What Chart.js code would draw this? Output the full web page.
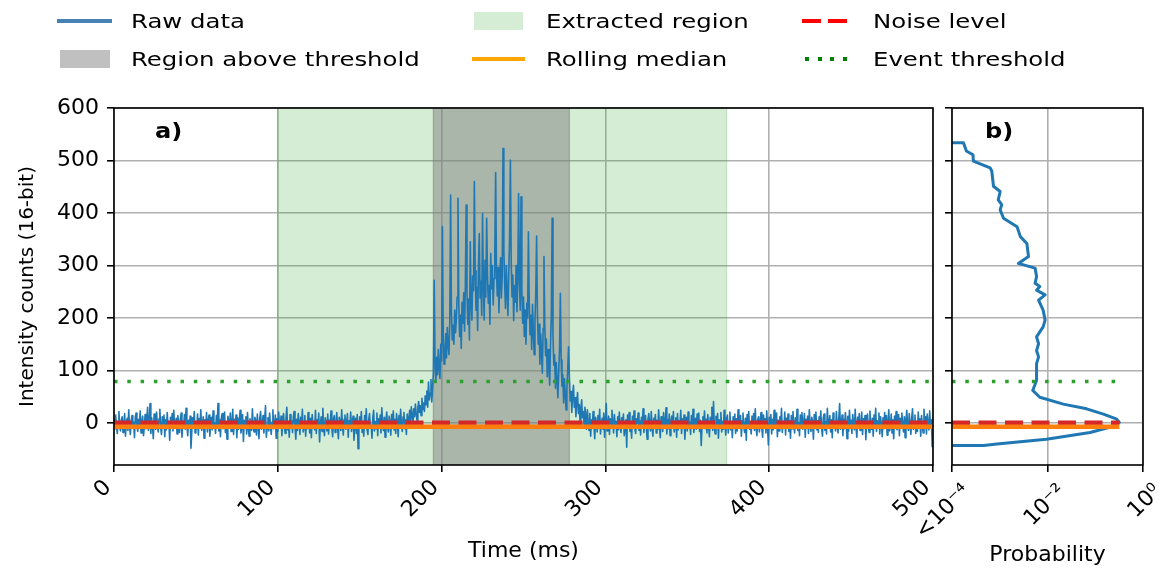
<!DOCTYPE html>
<html>
<head>
<meta charset="utf-8">
<title>Event extraction</title>
<script src="https://cdn.jsdelivr.net/npm/chart.js@4.4.1/dist/chart.umd.min.js"></script>
<style>
  body { margin: 0; background: #fff; }
  #page { position: relative; width: 1162px; height: 572px; overflow: hidden; font-family: "DejaVu Sans", sans-serif; }
  canvas { position: absolute; top: 0; }
  .sw { position: absolute; }
  .legend-text { position: absolute; font-size: 20px; line-height: 24px; white-space: nowrap; color: #000; transform: scaleX(1.22); transform-origin: 0 50%; }
  .panel-tag { position: absolute; font-size: 21px; font-weight: bold; line-height: 24px; transform: scaleX(1.15); transform-origin: 0 50%; }
</style>
</head>
<body>
<div id="page">
  <canvas id="time-chart" width="945" height="572" style="left:0"></canvas>
  <canvas id="prob-chart" width="262" height="572" style="left:900px"></canvas>

  <!-- legend, 3 columns x 2 rows -->
  <div class="sw" style="left:57px;top:19px;width:55px;height:4px;background:#4682b4"></div>
  <div class="legend-text" style="left:131px;top:9px">Raw data</div>
  <div class="sw" style="left:60px;top:50px;width:50px;height:18px;background:#c0c0c0"></div>
  <div class="legend-text" style="left:131px;top:47px">Region above threshold</div>

  <div class="sw" style="left:474px;top:12px;width:49px;height:18px;background:#d5ecd5"></div>
  <div class="legend-text" style="left:546px;top:9px">Extracted region</div>
  <div class="sw" style="left:472px;top:57px;width:53px;height:4px;background:#ffa500"></div>
  <div class="legend-text" style="left:546px;top:47px">Rolling median</div>

  <div class="sw" style="left:802px;top:19px;width:45px;height:4px;background:linear-gradient(to right,#f00 0 19px,transparent 19px 26px,#f00 26px 45px)"></div>
  <div class="legend-text" style="left:873px;top:9px">Noise level</div>
  <div class="sw" style="left:805px;top:57px;width:42px;height:4px;background:repeating-linear-gradient(to right,#008000 0 4px,transparent 4px 12.7px)"></div>
  <div class="legend-text" style="left:873px;top:47px">Event threshold</div>

  <div class="panel-tag" style="left:155px;top:119px">a)</div>
  <div class="panel-tag" style="left:985px;top:119px">b)</div>
</div>

<script>
// sampling of the raw trace
const sampleStepMs = 0.5;

// raw intensity counts, one value every 0.5 ms
const baselineBefore = [ // 0 - 179.5 ms
  8,-12,15,-5,-20,3,22,-9,-15,6,12,-18,-2,18,-25,0,9,-14,25,-7,
  -22,4,14,-10,2,-28,11,19,-6,-16,7,-3,23,-19,1,13,-24,-8,16,-11,
  5,30,-14,-1,37,-20,10,-6,-30,17,3,-12,21,-4,-17,8,26,-9,-22,12,
  -2,15,-26,6,-13,20,-7,2,-33,11,-5,18,-15,24,-10,-1,9,-21,14,-4,
  -18,7,19,-27,3,-8,16,-12,28,-3,-24,5,-9,13,-48,-16,10,-6,22,-19,
  1,-11,17,-23,8,-4,25,-14,-2,12,-29,6,-7,20,-17,3,15,-25,-5,11,
  -13,23,-8,0,-20,14,-3,37,-15,6,-26,9,18,-11,-4,21,-18,2,-31,13,
  4,-9,19,-16,-1,26,-22,7,-6,15,-28,10,-12,3,24,-19,-7,16,-35,5,
  -3,12,-21,20,-10,-25,8,1,-14,27,-8,-17,11,4,-23,17,-5,-30,9,22,
  -12,-2,14,-19,6,33,-27,-8,10,-15,19,-4,-22,2,25,-11,-6,15,-29,8,
  -16,21,-3,-10,13,-24,5,18,-7,-20,9,30,-13,-1,-27,16,-9,4,-18,12,
  22,-6,-31,7,-14,18,1,-22,11,-4,26,-17,-8,14,-25,3,-11,20,-2,-19,
  9,-28,16,-5,2,-13,24,-20,6,-9,19,-36,-3,12,-16,28,-7,-24,10,0,
  -15,17,-21,5,-2,23,-11,-26,8,14,-18,-4,20,-8,-30,11,3,-14,25,-6,
  -23,7,15,-12,-1,18,-27,4,-9,21,-16,2,13,-33,-5,9,-20,16,-49,-10,
  12,-7,22,-18,0,-25,14,-3,27,-13,-22,6,18,-9,-4,-29,10,24,-15,3,
  -11,19,-24,8,-6,15,-19,29,-2,-14,11,-27,5,21,-8,-17,13,1,-23,16,
  -5,23,-13,7,-20,18,2,-26,14,-9,26,-4,-16,12,20,-11,6,-22,17,-3
];
const onsetRise = [ // 180 - 194.5 ms
  8,24,2,31,15,-4,27,12,36,18,5,29,41,20,33,14,47,26,38,22,
  52,35,61,30,78,44,57,83,40,66
];
const eventBurst = [ // 195 - 289.5 ms
  95,272,110,78,125,92,140,105,85,150,
  118,374,160,112,135,170,124,182,148,130,
  195,434,210,158,186,150,215,172,198,240,
  428,225,165,205,142,230,190,248,175,262,
  415,250,188,236,158,345,230,196,280,252,
  460,290,215,258,176,300,361,238,270,205,
  399,265,196,310,240,390,285,228,262,188,
  323,256,300,225,275,330,477,290,242,296,
  210,268,315,238,280,523,330,265,218,300,
  248,205,285,350,501,305,240,282,195,262,
  230,300,212,268,437,275,215,431,250,190,
  240,165,215,150,228,200,364,230,168,205,
  140,226,176,130,195,248,356,210,150,188,
  112,170,135,95,180,317,185,128,160,88,
  140,104,72,150,205,390,168,110,130,66,
  115,82,48,98,140,247,120,70,92,38,
  84,55,25,68,100,145,88,42,60,20,
  55,72,30,48,12,40,58,18,35,5,
  28,44,10,22,-6,30,14,-12,25,3
];
const baselineAfter = [ // 290 - 500 ms
  -14,18,-25,6,-9,22,-3,-30,11,1,-17,14,-6,26,-21,-2,9,-12,19,-27,
  5,37,-15,-4,13,-22,8,-10,24,-1,-19,16,-8,3,-26,12,-13,21,-5,-18,
  10,-3,17,-24,-11,6,-46,15,-7,20,-16,2,-29,13,-4,23,-12,-20,8,-1,
  19,-14,4,-23,11,-6,27,-18,0,14,-10,-31,7,18,-3,-15,22,-8,-25,9,
  -2,16,-19,5,-12,25,-7,-28,12,3,-16,20,-9,-3,29,-21,6,-11,17,-24,
  1,13,-8,22,-17,-5,10,-27,18,-13,4,-2,24,-20,8,-9,15,-31,-4,11,
  -15,21,-6,2,-22,14,-10,26,-18,-1,9,-12,17,-7,19,-16,5,-43,-4,12,
  -3,23,-11,7,-19,16,-5,-26,11,2,30,-14,41,-8,-21,13,-2,18,-29,6,
  -9,20,-17,3,-12,24,-6,-23,10,15,-19,-4,21,-13,1,-28,12,-7,17,-20,
  8,-15,25,-2,-10,14,-25,4,19,-8,-18,9,-33,16,-5,22,-12,0,-21,13,
  -6,18,-14,27,-9,-24,6,12,-17,3,20,-11,-27,15,-3,8,-19,23,-8,-42,
  11,-4,16,-21,7,-13,24,-9,-1,19,-26,5,-15,12,-7,28,-18,2,-10,21,
  -23,9,-5,17,-16,4,-29,14,-11,22,-2,-19,10,-8,26,-14,1,-24,15,-6,
  20,-12,-3,18,-27,7,-9,13,-20,25,-5,-16,11,1,-31,16,-8,21,-13,4,
  -18,12,-6,23,-10,-25,9,17,-14,3,-21,28,-7,-2,14,-17,6,-28,19,-9,
  2,-15,22,-4,-19,10,37,-12,-6,15,-24,7,-11,20,-1,-30,13,-16,24,-8,
  5,-20,16,-3,-13,26,-9,-27,11,0,18,-14,-5,21,-22,8,-10,14,-32,3,
  17,-7,-18,23,-2,-12,9,-25,15,-5,28,-16,4,-9,19,-21,12,-3,-26,10,
  -11,20,-6,14,-23,2,25,-15,-8,17,-19,6,-30,13,-1,22,-13,-5,16,-24,
  9,-10,19,-3,-17,12,-28,5,24,-8,-14,18,-2,-22,11,27,-12,-6,15,-20,
  3,-16,21,-9,8,-25,14,-4,-19,26,-7,12,-21,17,-2,-13,23,-10,6,-45,
  10
];
const rawCounts = [...baselineBefore, ...onsetRise, ...eventBurst, ...baselineAfter];

// levels and regions (ms / counts)
const noiseLevel = 0.5;
const rollingMedian = -7;
const eventThreshold = 79;
const extractedRegion = [100, 374];
const aboveThresholdRegion = [195, 278];

// panel b: probability of each intensity level
const histCounts = [534,534,518,511,499,486,480,451,441,425,416,406,390,374,355,342,317,304,295,279,
  266,260,253,244,234,215,196,183,164,151,138,126,113,81,62,49,36,27,17,8,1,-8,-18,-31,-40,-43,-43];
const histProb = [1e-4,1.74e-4,2.0e-4,2.75e-4,2.8e-4,6.3e-4,6.8e-4,7.4e-4,1.02e-3,9.3e-4,1.1e-3,1.02e-3,1.2e-3,
  2.3e-3,2.7e-3,3.7e-3,4.0e-3,2.45e-3,5.5e-3,5.9e-3,5.5e-3,6.9e-3,5.9e-3,8.9e-3,6.5e-3,8.1e-3,8.9e-3,8.1e-3,
  5.9e-3,6.5e-3,5.9e-3,6.5e-3,5.9e-3,5.9e-3,4.9e-3,6.9e-3,0.0214,0.066,0.148,0.275,0.32,0.20,0.078,9.5e-3,
  8.7e-4,4.6e-4,1e-4];

// axes
const timeTicks = [0, 100, 200, 300, 400, 500];
const countTicks = [0, 100, 200, 300, 400, 500, 600];
const probTicks = [1e-4, 1e-2, 1];
const probTickLabels = ['<10\u207b\u2074', '10\u207b\u00b2', '10\u2070'];

const blue = '#1f77b4';
const red = '#d62728';
const orange = '#ff7f0e';
const green = '#2ca02c';

Chart.defaults.font.family = 'DejaVu Sans';
Chart.defaults.color = '#000';

const font = (size, weight) => ({ family: 'DejaVu Sans', size: size, weight: weight });

function gridOpts() {
  return { color: '#b0b0b0', lineWidth: 1.6, drawTicks: true, tickLength: 7, tickColor: '#000', tickWidth: 1.6 };
}

// keep the plot area where the layout padding puts it
function fixedHeight(h) {
  return s => { s.height = h; s.paddingLeft = 0; s.paddingRight = 0; };
}

function hline(label, y, x0, x1, color, width, dash, order) {
  return {
    label: label,
    data: [{ x: x0, y: y }, { x: x1, y: y }],
    borderColor: color,
    borderWidth: width,
    borderDash: dash,
    pointRadius: 0,
    order: order
  };
}

// black box round the plot area
const frame = {
  id: 'frame',
  afterDatasetsDraw(chart) {
    const { ctx, chartArea: a } = chart;
    ctx.save();
    ctx.strokeStyle = '#000';
    ctx.lineWidth = 1.6;
    ctx.strokeRect(a.left, a.top, a.right - a.left, a.bottom - a.top);
    ctx.restore();
  }
};

// shaded time spans
const spans = {
  id: 'spans',
  beforeDatasetsDraw(chart, args, opts) {
    const { ctx, chartArea: a, scales: { x } } = chart;
    (opts.regions || []).forEach(r => {
      const x0 = x.getPixelForValue(r.range[0]);
      const x1 = x.getPixelForValue(r.range[1]);
      ctx.save();
      ctx.fillStyle = r.color;
      ctx.strokeStyle = r.color;
      ctx.lineWidth = 1.4;
      ctx.fillRect(x0, a.top, x1 - x0, a.bottom - a.top);
      ctx.beginPath();
      ctx.moveTo(x0, a.top); ctx.lineTo(x0, a.bottom);
      ctx.moveTo(x1, a.top); ctx.lineTo(x1, a.bottom);
      ctx.stroke();
      ctx.restore();
    });
  }
};

const timeChart = new Chart(document.getElementById('time-chart'), {
  type: 'line',
  data: {
    datasets: [
      {
        label: 'Raw data',
        data: rawCounts.map((v, i) => ({ x: i * sampleStepMs, y: v })),
        borderColor: blue,
        borderWidth: 1.6,
        borderJoinStyle: 'round',
        pointRadius: 0,
        order: 4
      },
      hline('Event threshold', eventThreshold, 0, 500, green, 3.5, [3.5, 9.8], 3),
      hline('Noise level', noiseLevel, 0, 500, red, 4.5, [18, 8.5], 2),
      hline('Rolling median', rollingMedian, 0, 500, orange, 4.5, [], 1)
    ]
  },
  options: {
    responsive: false,
    animation: false,
    events: [],
    layout: { padding: { top: 108, right: 12, bottom: 0, left: 0 } },
    plugins: {
      legend: { display: false },
      tooltip: { enabled: false },
      spans: {
        regions: [
          { range: extractedRegion, color: 'rgba(44, 160, 44, 0.2)' },
          { range: aboveThresholdRegion, color: 'rgba(128, 128, 128, 0.5)' }
        ]
      }
    },
    scales: {
      x: {
        type: 'linear',
        min: 0,
        max: 500,
        afterBuildTicks: s => { s.ticks = timeTicks.map(v => ({ value: v })); },
        afterFit: fixedHeight(107),
        ticks: { font: font(22), color: '#000', minRotation: 45, maxRotation: 45, autoSkip: false, labelOffset: -6, padding: 3 },
        grid: gridOpts(),
        border: { display: false },
        title: { display: true, text: 'Time (ms)', font: font(22), color: '#000', padding: { top: 0, bottom: 8 } }
      },
      y: {
        min: -80,
        max: 600,
        afterBuildTicks: s => { s.ticks = countTicks.map(v => ({ value: v })); },
        afterFit: s => { s.width = 114; },
        ticks: { font: font(22), color: '#000', padding: 8 },
        grid: gridOpts(),
        border: { display: false },
        title: { display: true, text: 'Intensity counts (16-bit)', font: font(20), color: '#000', padding: { top: 16, bottom: 0 } }
      }
    }
  },
  plugins: [spans, frame]
});

const maxProb = Math.max(...histProb);

const probChart = new Chart(document.getElementById('prob-chart'), {
  type: 'line',
  data: {
    datasets: [
      {
        label: 'Probability',
        data: histProb.map((p, i) => ({ x: p, y: histCounts[i] })),
        borderColor: blue,
        borderWidth: 3,
        borderJoinStyle: 'round',
        pointRadius: 0,
        order: 4
      },
      hline('Event threshold', eventThreshold, 1e-4, maxProb, green, 3.5, [3.5, 9.8], 3),
      hline('Noise level', noiseLevel, 1e-4, maxProb, red, 4.5, [18, 8.5], 2),
      hline('Rolling median', rollingMedian, 1e-4, maxProb, orange, 4.5, [], 1)
    ]
  },
  options: {
    responsive: false,
    animation: false,
    events: [],
    layout: { padding: { top: 108, right: 19, bottom: 0, left: 0 } },
    plugins: { legend: { display: false }, tooltip: { enabled: false } },
    scales: {
      x: {
        type: 'logarithmic',
        min: 1e-4,
        max: 1,
        afterBuildTicks: s => { s.ticks = probTicks.map(v => ({ value: v })); },
        afterFit: fixedHeight(107),
        ticks: {
          font: font(22), color: '#000', minRotation: 45, maxRotation: 45, autoSkip: false, labelOffset: 15, padding: 7,
          callback: (v, i) => probTickLabels[i]
        },
        grid: gridOpts(),
        border: { display: false },
        title: { display: true, text: 'Probability', font: font(22), color: '#000', padding: { top: 0, bottom: 4 } }
      },
      y: {
        min: -80,
        max: 600,
        afterBuildTicks: s => { s.ticks = countTicks.map(v => ({ value: v })); },
        afterFit: s => { s.width = 52; },
        ticks: { display: false },
        grid: gridOpts(),
        border: { display: false }
      }
    }
  },
  plugins: [frame]
});
</script>
</body>
</html>
